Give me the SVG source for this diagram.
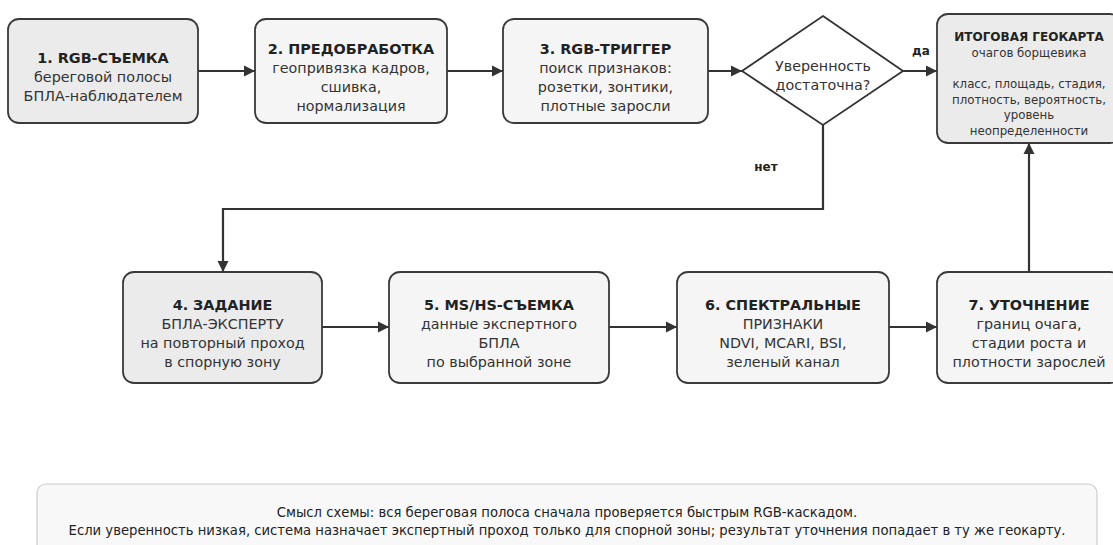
<svg xmlns="http://www.w3.org/2000/svg" width="1113" height="545" viewBox="0 0 1113 545">
<defs>
<marker id="ah" markerWidth="12" markerHeight="12" refX="11" refY="6" orient="auto" markerUnits="userSpaceOnUse">
<path d="M0,0.5 L11,6 L0,11.5 Z" fill="#333"/>
</marker>
<style>
.box{stroke:#3a3a3a;stroke-width:1.8;fill:#f5f5f5}
.dark{fill:#ebebeb}
.t{font-family:"DejaVu Sans",sans-serif;font-weight:bold;font-size:14.4px;fill:#222;text-anchor:middle}
.b{font-family:"DejaVu Sans",sans-serif;font-size:14.3px;fill:#333;text-anchor:middle}
.ts{font-family:"DejaVu Sans",sans-serif;font-weight:bold;font-size:12px;fill:#222;text-anchor:middle}
.bs{font-family:"DejaVu Sans",sans-serif;font-size:11.8px;fill:#333;text-anchor:middle}
.lbl{font-family:"DejaVu Sans",sans-serif;font-weight:bold;font-size:12px;fill:#222;text-anchor:middle}
.note{font-family:"DejaVu Sans",sans-serif;font-size:13.2px;fill:#222;text-anchor:middle}
.c{stroke:#333;stroke-width:2.2;fill:none}
</style>
</defs>
<rect width="1113" height="545" fill="#ffffff"/>

<g id="connectors">
<line class="c" x1="198" y1="71" x2="255" y2="71" marker-end="url(#ah)"/>
<line class="c" x1="447" y1="71" x2="503" y2="71" marker-end="url(#ah)"/>
<line class="c" x1="708" y1="71" x2="742" y2="71" marker-end="url(#ah)"/>
<line class="c" x1="903" y1="71" x2="937" y2="71" marker-end="url(#ah)"/>
<text class="lbl" x="921" y="55">да</text>
<polyline class="c" points="823,125 823,209 223,209 223,272" marker-end="url(#ah)"/>
<text class="lbl" x="766" y="171">нет</text>
<line class="c" x1="322" y1="327" x2="389" y2="327" marker-end="url(#ah)"/>
<line class="c" x1="609" y1="327" x2="677" y2="327" marker-end="url(#ah)"/>
<line class="c" x1="889" y1="327" x2="937" y2="327" marker-end="url(#ah)"/>
<line class="c" x1="1029" y1="272" x2="1029" y2="143" marker-end="url(#ah)"/>
</g>

<g id="n1">
<rect class="box dark" x="8" y="19" width="190" height="104" rx="11"/>
<text class="t" x="103" y="63">1. RGB-СЪЕМКА</text>
<text class="b" x="103" y="82">береговой полосы</text>
<text class="b" x="103" y="101">БПЛА-наблюдателем</text>
</g>

<g id="n2">
<rect class="box" x="255" y="19" width="192" height="104" rx="11"/>
<text class="t" x="351" y="54">2. ПРЕДОБРАБОТКА</text>
<text class="b" x="351" y="73">геопривязка кадров,</text>
<text class="b" x="351" y="92">сшивка,</text>
<text class="b" x="351" y="111">нормализация</text>
</g>

<g id="n3">
<rect class="box" x="503" y="19" width="205" height="104" rx="11"/>
<text class="t" x="605.5" y="54">3. RGB-ТРИГГЕР</text>
<text class="b" x="605.5" y="73">поиск признаков:</text>
<text class="b" x="605.5" y="92">розетки, зонтики,</text>
<text class="b" x="605.5" y="111">плотные заросли</text>
</g>

<g id="decision">
<polygon points="823,16 903,71 823,125 742,71" fill="#ffffff" stroke="#333" stroke-width="1.8"/>
<text class="b" x="823" y="71">Уверенность</text>
<text class="b" x="823" y="90">достаточна?</text>
</g>

<g id="geomap">
<rect class="box dark" x="937" y="14" width="184" height="129" rx="11"/>
<text class="ts" x="1029" y="41">ИТОГОВАЯ ГЕОКАРТА</text>
<text class="bs" x="1029" y="57">очагов борщевика</text>
<text class="bs" x="1029" y="88">класс, площадь, стадия,</text>
<text class="bs" x="1029" y="104">плотность, вероятность,</text>
<text class="bs" x="1029" y="119">уровень</text>
<text class="bs" x="1029" y="135">неопределенности</text>
</g>

<g id="n4">
<rect class="box dark" x="123" y="272" width="199" height="111" rx="11"/>
<text class="t" x="222.5" y="310">4. ЗАДАНИЕ</text>
<text class="b" x="222.5" y="329">БПЛА-ЭКСПЕРТУ</text>
<text class="b" x="222.5" y="348">на повторный проход</text>
<text class="b" x="222.5" y="367">в спорную зону</text>
</g>

<g id="n5">
<rect class="box" x="389" y="272" width="220" height="111" rx="11"/>
<text class="t" x="499" y="310">5. MS/HS-СЪЕМКА</text>
<text class="b" x="499" y="329">данные экспертного</text>
<text class="b" x="499" y="348">БПЛА</text>
<text class="b" x="499" y="367">по выбранной зоне</text>
</g>

<g id="n6">
<rect class="box" x="677" y="272" width="212" height="111" rx="11"/>
<text class="t" x="783" y="310">6. СПЕКТРАЛЬНЫЕ</text>
<text class="b" x="783" y="329">ПРИЗНАКИ</text>
<text class="b" x="783" y="348">NDVI, MCARI, BSI,</text>
<text class="b" x="783" y="367">зеленый канал</text>
</g>

<g id="n7">
<rect class="box" x="937" y="272" width="184" height="111" rx="11"/>
<text class="t" x="1029" y="310">7. УТОЧНЕНИЕ</text>
<text class="b" x="1029" y="329">границ очага,</text>
<text class="b" x="1029" y="348">стадии роста и</text>
<text class="b" x="1029" y="367">плотности зарослей</text>
</g>

<g id="note">
<rect x="37" y="484" width="1060" height="90" rx="9" fill="#f8f8f8" stroke="#cccccc" stroke-width="1.2"/>
<text class="note" x="567" y="517">Смысл схемы: вся береговая полоса сначала проверяется быстрым RGB-каскадом.</text>
<text class="note" x="567" y="535">Если уверенность низкая, система назначает экспертный проход только для спорной зоны; результат уточнения попадает в ту же геокарту.</text>
</g>
</svg>
